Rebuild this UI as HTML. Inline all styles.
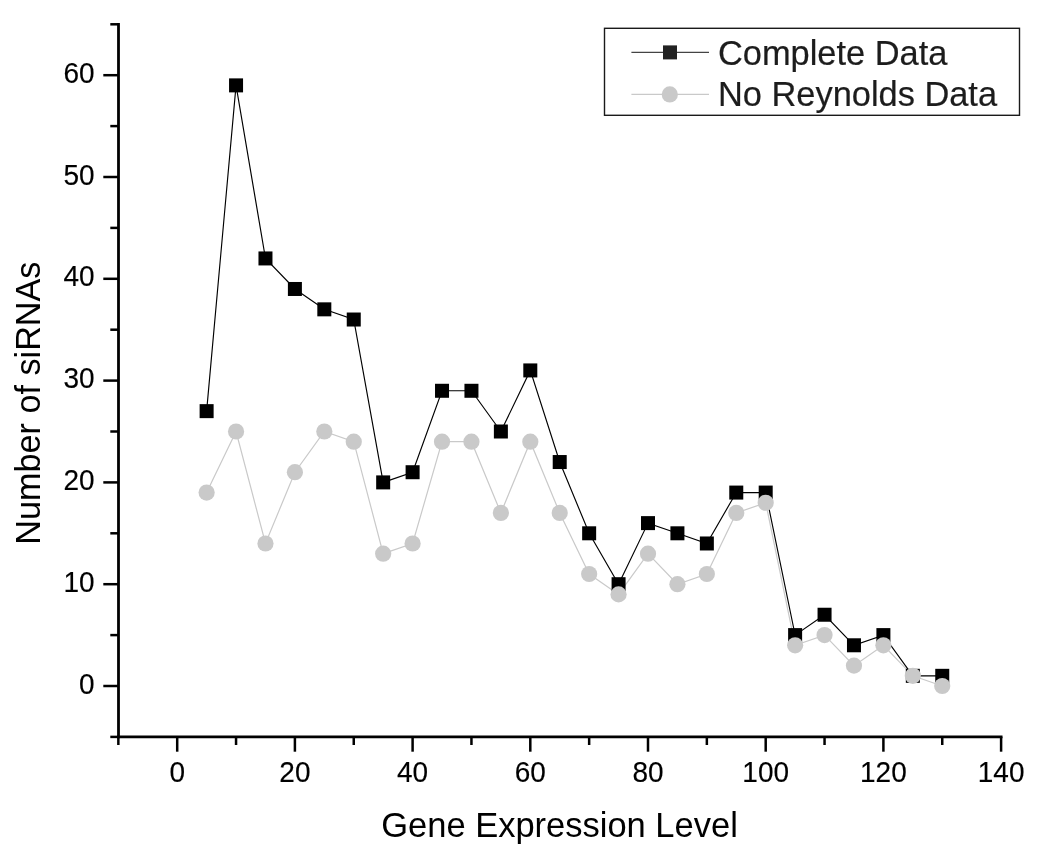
<!DOCTYPE html><html><head><meta charset="utf-8"><title>Chart</title><style>html,body{margin:0;padding:0;background:#fff}svg{display:block}text{font-family:"Liberation Sans",Arial,sans-serif;fill:#000}</style></head><body>
<svg width="1050" height="863" viewBox="0 0 1050 863">
<rect width="1050" height="863" fill="#fff"/>
<g stroke="#000" stroke-width="2.8" fill="none" stroke-linecap="butt">
<line x1="118.5" y1="23.1" x2="118.5" y2="738.1999999999999"/>
<line x1="117.1" y1="736.8" x2="1002.5" y2="736.8"/>
</g>
<g stroke="#000" stroke-width="2.5" fill="none" stroke-linecap="butt">
<line x1="110.3" y1="736.90" x2="118.5" y2="736.90"/>
<line x1="103.3" y1="686.00" x2="118.5" y2="686.00"/>
<line x1="110.3" y1="635.10" x2="118.5" y2="635.10"/>
<line x1="103.3" y1="584.20" x2="118.5" y2="584.20"/>
<line x1="110.3" y1="533.30" x2="118.5" y2="533.30"/>
<line x1="103.3" y1="482.40" x2="118.5" y2="482.40"/>
<line x1="110.3" y1="431.50" x2="118.5" y2="431.50"/>
<line x1="103.3" y1="380.60" x2="118.5" y2="380.60"/>
<line x1="110.3" y1="329.70" x2="118.5" y2="329.70"/>
<line x1="103.3" y1="278.80" x2="118.5" y2="278.80"/>
<line x1="110.3" y1="227.90" x2="118.5" y2="227.90"/>
<line x1="103.3" y1="177.00" x2="118.5" y2="177.00"/>
<line x1="110.3" y1="126.10" x2="118.5" y2="126.10"/>
<line x1="103.3" y1="75.20" x2="118.5" y2="75.20"/>
<line x1="110.3" y1="24.30" x2="118.5" y2="24.30"/>
<line x1="118.35" y1="736.8" x2="118.35" y2="745"/>
<line x1="177.20" y1="736.8" x2="177.20" y2="751.7"/>
<line x1="236.05" y1="736.8" x2="236.05" y2="745"/>
<line x1="294.90" y1="736.8" x2="294.90" y2="751.7"/>
<line x1="353.75" y1="736.8" x2="353.75" y2="745"/>
<line x1="412.60" y1="736.8" x2="412.60" y2="751.7"/>
<line x1="471.45" y1="736.8" x2="471.45" y2="745"/>
<line x1="530.30" y1="736.8" x2="530.30" y2="751.7"/>
<line x1="589.15" y1="736.8" x2="589.15" y2="745"/>
<line x1="648.00" y1="736.8" x2="648.00" y2="751.7"/>
<line x1="706.85" y1="736.8" x2="706.85" y2="745"/>
<line x1="765.70" y1="736.8" x2="765.70" y2="751.7"/>
<line x1="824.55" y1="736.8" x2="824.55" y2="745"/>
<line x1="883.40" y1="736.8" x2="883.40" y2="751.7"/>
<line x1="942.25" y1="736.8" x2="942.25" y2="745"/>
<line x1="1001.10" y1="736.8" x2="1001.10" y2="751.7"/>
</g>
<g font-size="28" stroke="#000" stroke-width="0.15">
<text transform="translate(94.6,693.50) scale(1,1.04)" text-anchor="end">0</text>
<text transform="translate(94.6,591.70) scale(1,1.04)" text-anchor="end">10</text>
<text transform="translate(94.6,489.90) scale(1,1.04)" text-anchor="end">20</text>
<text transform="translate(94.6,388.10) scale(1,1.04)" text-anchor="end">30</text>
<text transform="translate(94.6,286.30) scale(1,1.04)" text-anchor="end">40</text>
<text transform="translate(94.6,184.50) scale(1,1.04)" text-anchor="end">50</text>
<text transform="translate(94.6,82.70) scale(1,1.04)" text-anchor="end">60</text>
<text transform="translate(177.20,782.2) scale(1,1.04)" text-anchor="middle">0</text>
<text transform="translate(294.90,782.2) scale(1,1.04)" text-anchor="middle">20</text>
<text transform="translate(412.60,782.2) scale(1,1.04)" text-anchor="middle">40</text>
<text transform="translate(530.30,782.2) scale(1,1.04)" text-anchor="middle">60</text>
<text transform="translate(648.00,782.2) scale(1,1.04)" text-anchor="middle">80</text>
<text transform="translate(765.70,782.2) scale(1,1.04)" text-anchor="middle">100</text>
<text transform="translate(883.40,782.2) scale(1,1.04)" text-anchor="middle">120</text>
<text transform="translate(1001.10,782.2) scale(1,1.04)" text-anchor="middle">140</text>
</g>
<text transform="translate(559.5,837.3) scale(1,1.03)" font-size="34.5" text-anchor="middle">Gene Expression Level</text>
<text transform="translate(40.0,403.1) rotate(-90) scale(1,1.03)" font-size="34.2" text-anchor="middle">Number of siRNAs</text>
<polyline points="206.62,492.58 236.05,431.50 265.47,543.48 294.90,472.22 324.32,431.50 353.75,441.68 383.17,553.66 412.60,543.48 442.02,441.68 471.45,441.68 500.88,512.94 530.30,441.68 559.72,512.94 589.15,574.02 618.58,594.38 648.00,553.66 677.42,584.20 706.85,574.02 736.27,512.94 765.70,502.76 795.12,645.28 824.55,635.10 853.97,665.64 883.40,645.28 912.83,675.82 942.25,686.00" fill="none" stroke="#c9c9c9" stroke-width="1.2"/>
<polyline points="206.62,411.14 236.05,85.38 265.47,258.44 294.90,288.98 324.32,309.34 353.75,319.52 383.17,482.40 412.60,472.22 442.02,390.78 471.45,390.78 500.88,431.50 530.30,370.42 559.72,462.04 589.15,533.30 618.58,584.20 648.00,523.12 677.42,533.30 706.85,543.48 736.27,492.58 765.70,492.58 795.12,635.10 824.55,614.74 853.97,645.28 883.40,635.10 912.83,675.82 942.25,675.82" fill="none" stroke="#000" stroke-width="1.15"/>
<rect x="199.62" y="404.14" width="14" height="14" fill="#000"/>
<rect x="229.05" y="78.38" width="14" height="14" fill="#000"/>
<rect x="258.47" y="251.44" width="14" height="14" fill="#000"/>
<rect x="287.90" y="281.98" width="14" height="14" fill="#000"/>
<rect x="317.32" y="302.34" width="14" height="14" fill="#000"/>
<rect x="346.75" y="312.52" width="14" height="14" fill="#000"/>
<rect x="376.17" y="475.40" width="14" height="14" fill="#000"/>
<rect x="405.60" y="465.22" width="14" height="14" fill="#000"/>
<rect x="435.02" y="383.78" width="14" height="14" fill="#000"/>
<rect x="464.45" y="383.78" width="14" height="14" fill="#000"/>
<rect x="493.88" y="424.50" width="14" height="14" fill="#000"/>
<rect x="523.30" y="363.42" width="14" height="14" fill="#000"/>
<rect x="552.72" y="455.04" width="14" height="14" fill="#000"/>
<rect x="582.15" y="526.30" width="14" height="14" fill="#000"/>
<rect x="611.58" y="577.20" width="14" height="14" fill="#000"/>
<rect x="641.00" y="516.12" width="14" height="14" fill="#000"/>
<rect x="670.42" y="526.30" width="14" height="14" fill="#000"/>
<rect x="699.85" y="536.48" width="14" height="14" fill="#000"/>
<rect x="729.27" y="485.58" width="14" height="14" fill="#000"/>
<rect x="758.70" y="485.58" width="14" height="14" fill="#000"/>
<rect x="788.12" y="628.10" width="14" height="14" fill="#000"/>
<rect x="817.55" y="607.74" width="14" height="14" fill="#000"/>
<rect x="846.97" y="638.28" width="14" height="14" fill="#000"/>
<rect x="876.40" y="628.10" width="14" height="14" fill="#000"/>
<rect x="905.83" y="668.82" width="14" height="14" fill="#000"/>
<rect x="935.25" y="668.82" width="14" height="14" fill="#000"/>
<circle cx="206.62" cy="492.58" r="8.1" fill="#c9c9c9"/>
<circle cx="236.05" cy="431.50" r="8.1" fill="#c9c9c9"/>
<circle cx="265.47" cy="543.48" r="8.1" fill="#c9c9c9"/>
<circle cx="294.90" cy="472.22" r="8.1" fill="#c9c9c9"/>
<circle cx="324.32" cy="431.50" r="8.1" fill="#c9c9c9"/>
<circle cx="353.75" cy="441.68" r="8.1" fill="#c9c9c9"/>
<circle cx="383.17" cy="553.66" r="8.1" fill="#c9c9c9"/>
<circle cx="412.60" cy="543.48" r="8.1" fill="#c9c9c9"/>
<circle cx="442.02" cy="441.68" r="8.1" fill="#c9c9c9"/>
<circle cx="471.45" cy="441.68" r="8.1" fill="#c9c9c9"/>
<circle cx="500.88" cy="512.94" r="8.1" fill="#c9c9c9"/>
<circle cx="530.30" cy="441.68" r="8.1" fill="#c9c9c9"/>
<circle cx="559.72" cy="512.94" r="8.1" fill="#c9c9c9"/>
<circle cx="589.15" cy="574.02" r="8.1" fill="#c9c9c9"/>
<circle cx="618.58" cy="594.38" r="8.1" fill="#c9c9c9"/>
<circle cx="648.00" cy="553.66" r="8.1" fill="#c9c9c9"/>
<circle cx="677.42" cy="584.20" r="8.1" fill="#c9c9c9"/>
<circle cx="706.85" cy="574.02" r="8.1" fill="#c9c9c9"/>
<circle cx="736.27" cy="512.94" r="8.1" fill="#c9c9c9"/>
<circle cx="765.70" cy="502.76" r="8.1" fill="#c9c9c9"/>
<circle cx="795.12" cy="645.28" r="8.1" fill="#c9c9c9"/>
<circle cx="824.55" cy="635.10" r="8.1" fill="#c9c9c9"/>
<circle cx="853.97" cy="665.64" r="8.1" fill="#c9c9c9"/>
<circle cx="883.40" cy="645.28" r="8.1" fill="#c9c9c9"/>
<circle cx="912.83" cy="675.82" r="8.1" fill="#c9c9c9"/>
<circle cx="942.25" cy="686.00" r="8.1" fill="#c9c9c9"/>
<rect x="604.5" y="28.3" width="415" height="87" fill="#fff" stroke="#1a1a1a" stroke-width="1.4"/>
<line x1="631.4" y1="52.4" x2="709" y2="52.4" stroke="#444" stroke-width="1.2"/>
<rect x="663" y="45.4" width="14" height="14" fill="#222"/>
<line x1="631.4" y1="94.4" x2="709" y2="94.4" stroke="#c9c9c9" stroke-width="1.3"/>
<circle cx="669.8" cy="94.4" r="8.1" fill="#c9c9c9"/>
<text transform="translate(718,64.6) scale(1,1.04)" font-size="34.4" style="fill:#1c1c1c" stroke="#1c1c1c" stroke-width="0.2">Complete Data</text>
<text transform="translate(718,105.8) scale(1,1.04)" font-size="34.4" style="fill:#1c1c1c" stroke="#1c1c1c" stroke-width="0.2">No Reynolds Data</text>
</svg></body></html>
